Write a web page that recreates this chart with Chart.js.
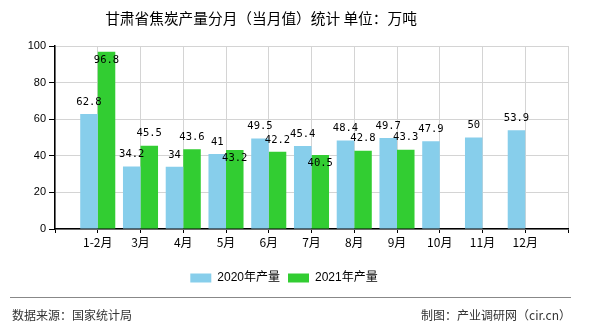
<!DOCTYPE html>
<html lang="zh">
<head>
  <meta charset="UTF-8" />
  <title>甘肃省焦炭产量分月（当月值）统计</title>
  <script src="https://cdn.jsdelivr.net/npm/chart.js"></script>
  <style>
    body { margin: 0; background: #fff; font-family: "Noto Sans CJK SC", sans-serif; }
    #wrap { position: relative; width: 590px; height: 330px; overflow: hidden; }
    #title { position: absolute; left: 0; top: 8px; width: 522px; text-align: center; font-size: 14.7px; color: #000; line-height: 20px; }
    #rule { position: absolute; left: 10px; top: 297px; width: 561px; border-top: 1px solid #888; }
    .foot { position: absolute; top: 306px; font-size: 12px; color: #333; line-height: 18px; }
    #src { left: 12px; }
    #by { right: 19px; }
    canvas { position: absolute; left: 0; top: 0; }
  </style>
</head>
<body>
<div id="wrap">
  <canvas id="chart" width="590" height="330"></canvas>
  <div id="title">甘肃省焦炭产量分月（当月值）统计 单位：万吨</div>
  <div id="rule"></div>
  <div class="foot" id="src">数据来源：国家统计局</div>
  <div class="foot" id="by">制图：产业调研网（cir.cn）</div>
</div>

<script>
  // months (empty slots at both ends keep the axis padded by one category)
  const months = ['', '1-2月', '3月', '4月', '5月', '6月', '7月', '8月', '9月', '10月', '11月', '12月', ''];
  const output2020 = [null, 62.8, 34.2, 34, 41, 49.5, 45.4, 48.4, 49.7, 47.9, 50, 53.9, null];
  const output2021 = [null, 96.8, 45.5, 43.6, 43.2, 42.2, 40.5, 42.8, 43.3, null, null, null, null];
  const yTicks = [0, 20, 40, 60, 80, 100];

  // value labels above bars, pushed inside the bar when they would collide
  const valueLabels = {
    id: 'valueLabels',
    afterDatasetsDraw(chart) {
      const ctx = chart.ctx;
      const area = chart.chartArea;
      ctx.save();
      ctx.font = '10.5px "DejaVu Sans Mono", monospace';
      ctx.fillStyle = '#000';
      ctx.textAlign = 'center';
      ctx.textBaseline = 'middle';
      const h = 10;
      const placed = [];
      chart.data.datasets.forEach((ds, di) => {
        const meta = chart.getDatasetMeta(di);
        meta.data.forEach((bar, i) => {
          const v = ds.data[i];
          if (v === null || v === undefined) return;
          const txt = String(v);
          const w = ctx.measureText(txt).width;
          let y = bar.y - 12;
          const clash = placed.some(p => p.i === i &&
            Math.abs(p.x - bar.x) < (p.w + w) / 2 && Math.abs(p.y - y) < h);
          if (y - 6 < area.top || clash) y = bar.y + 8;
          placed.push({ i, x: bar.x, y, w });
          ctx.fillText(txt, bar.x, y);
        });
      });
      ctx.restore();
    }
  };

  new Chart(document.getElementById('chart'), {
    type: 'bar',
    data: {
      labels: months,
      datasets: [
        { label: '2020年产量', data: output2020, backgroundColor: '#87ceeb' },
        { label: '2021年产量', data: output2021, backgroundColor: '#32cd32' }
      ]
    },
    options: {
      responsive: false,
      animation: false,
      events: [],
      categoryPercentage: 0.82,
      barPercentage: 1,
      layout: { padding: { top: 46, right: 22, bottom: 36, left: 0 } },
      scales: {
        x: {
          offset: false,
          grid: { offset: false, color: '#d4d4d4', tickColor: '#000', tickLength: 4 },
          border: { color: '#000', width: 1.5 },
          ticks: { color: '#000', font: { size: 12, family: '"Noto Sans CJK SC"' }, padding: 2, maxRotation: 0, autoSkip: false },
          afterFit(s) { s.height = 35; }
        },
        y: {
          min: 0,
          max: 100,
          afterBuildTicks(s) { s.ticks = yTicks.map(v => ({ value: v })); },
          grid: { color: '#d4d4d4', tickColor: '#000', tickLength: 6 },
          border: { color: '#000', width: 1.5 },
          ticks: { color: '#000', font: { size: 11, family: '"Liberation Sans"' }, padding: 3 },
          afterFit(s) { s.width = 55; }
        }
      },
      plugins: {
        title: { display: false },
        tooltip: { enabled: false },
        legend: {
          position: 'bottom',
          labels: {
            boxWidth: 21, boxHeight: 9, padding: 8,
            color: '#000',
            font: { size: 12, family: '"Liberation Sans", "Noto Sans CJK SC"' }
          }
        }
      }
    },
    plugins: [valueLabels]
  });
</script>
</body>
</html>
